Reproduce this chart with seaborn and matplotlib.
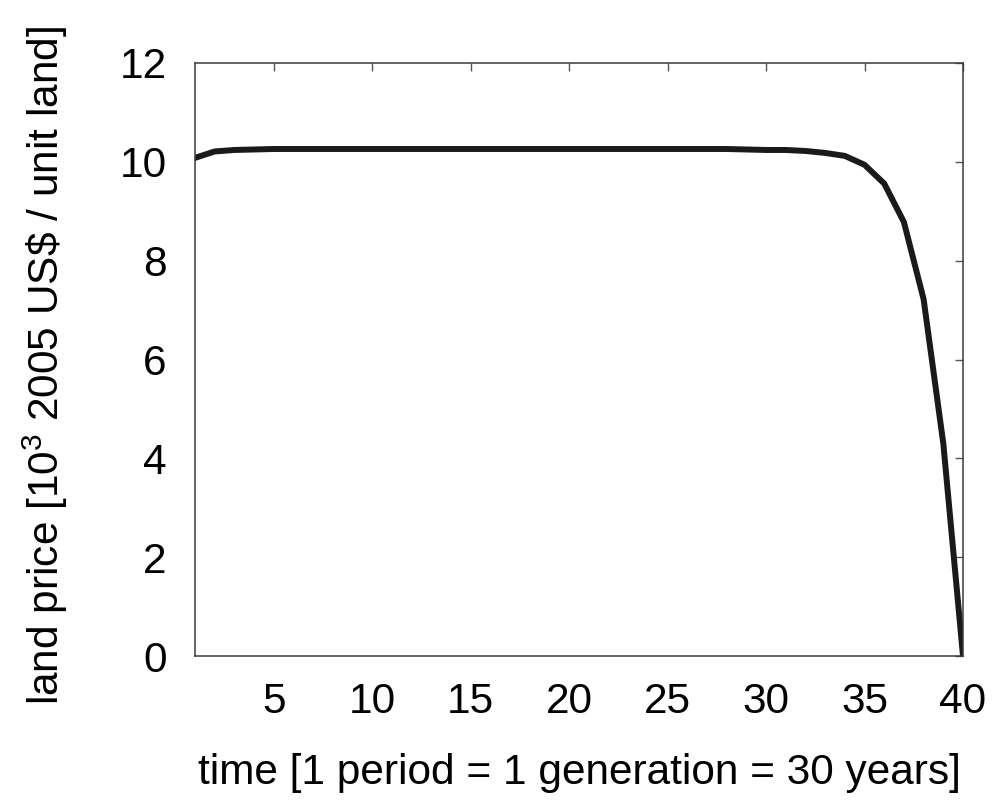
import matplotlib
matplotlib.use("Agg")
import matplotlib.pyplot as plt
import seaborn as sns
import pandas as pd

# Land price over generations (thousand 2005 US$ per unit land)
periods = list(range(1, 41))
land_price = [10.08, 10.21, 10.24, 10.25, 10.26, 10.26, 10.26, 10.26, 10.26, 10.26,
              10.26, 10.26, 10.26, 10.26, 10.26, 10.26, 10.26, 10.26, 10.26, 10.26,
              10.26, 10.26, 10.26, 10.26, 10.26, 10.26, 10.26, 10.26, 10.25, 10.24,
              10.24, 10.22, 10.18, 10.12, 9.94, 9.56, 8.78, 7.22, 4.30, 0.0]

x_ticks = [5, 10, 15, 20, 25, 30, 35, 40]
y_ticks = [0, 2, 4, 6, 8, 10, 12]

sns.set_theme(style="white")
plt.rcParams["font.family"] = ["Liberation Sans", "DejaVu Sans"]
plt.rcParams["mathtext.fontset"] = "custom"
plt.rcParams["mathtext.rm"] = "Liberation Sans"
plt.rcParams["mathtext.it"] = "Liberation Sans"

df = pd.DataFrame({"period": periods, "price": land_price})

fig = plt.figure(figsize=(9.97, 8.0), dpi=100)
ax = fig.add_axes([195 / 997, 1 - 656 / 800, 768 / 997, 593 / 800])

sns.lineplot(data=df, x="period", y="price", ax=ax, color="#1a1a1a",
             linewidth=4.3, solid_joinstyle="miter")

ax.set_xlim(1, 40)
ax.set_ylim(0, 12)
ax.set_xticks(x_ticks)
ax.set_yticks(y_ticks)

for sp in ax.spines.values():
    sp.set_color("#3a3a3a")
    sp.set_linewidth(1.1)

ax.tick_params(axis="both", direction="in", length=6, width=1.0, color="#555555",
               top=True, right=True, labelsize=30.5, labelcolor="black")
ax.tick_params(axis="x", pad=19)
ax.tick_params(axis="y", pad=20.5)

ax.set_xlabel("time [1 period = 1 generation = 30 years]", fontsize=30.5, color="black")
ax.set_ylabel(r"land price [10$^3$ 2005 US\$ / unit land]", fontsize=30.5, color="black")
ax.xaxis.set_label_coords(0.5, (656 - 773) / 593)
ax.xaxis.label.set_va("center")
ax.yaxis.set_label_coords((45 - 195) / 768, 0.49)
ax.yaxis.label.set_va("center")

fig.savefig("out.png", dpi=100, facecolor="white")
